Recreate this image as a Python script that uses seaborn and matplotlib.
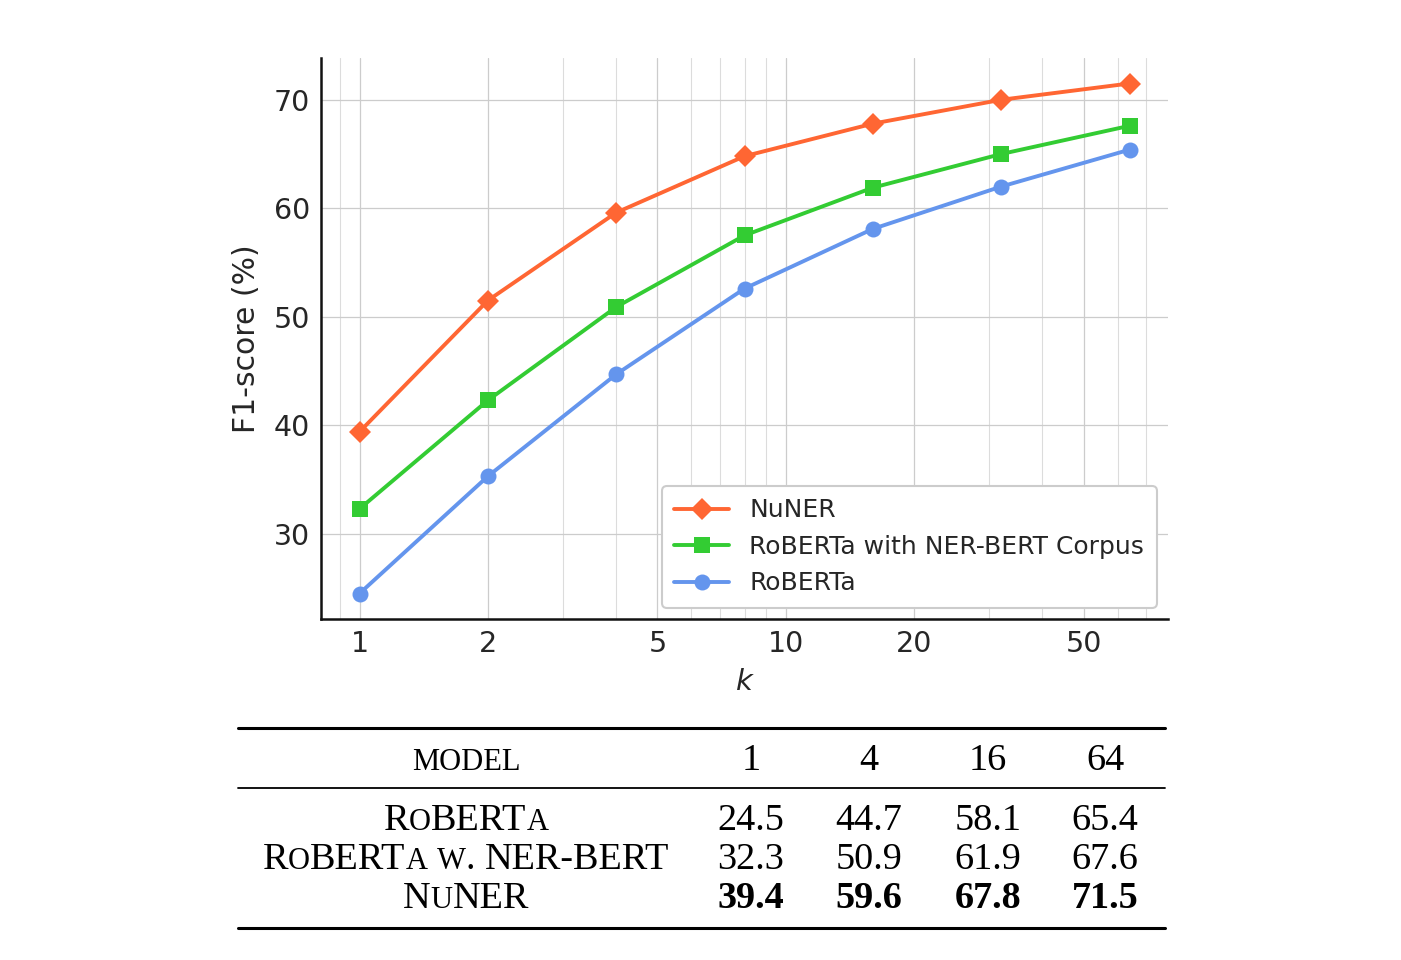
import numpy as np
import pandas as pd
import matplotlib
matplotlib.use("Agg")
import matplotlib.pyplot as plt
from matplotlib.ticker import FixedLocator, FuncFormatter, LogLocator, NullFormatter
from matplotlib.lines import Line2D
import seaborn as sns

# ---------------- data ----------------
k_values = [1, 2, 4, 8, 16, 32, 64]
nuner = [39.4, 51.5, 59.6, 64.8, 67.8, 70.0, 71.5]
roberta_nerbert = [32.3, 42.3, 50.9, 57.5, 61.9, 65.0, 67.6]
roberta = [24.5, 35.3, 44.7, 52.6, 58.1, 62.0, 65.4]

series_names = ["NuNER", "RoBERTa with NER-BERT Corpus", "RoBERTa"]
x_tick_labels = [1, 2, 5, 10, 20, 50]
y_ticks = [30, 40, 50, 60, 70]

table_cols = ["1", "4", "16", "64"]
table_rows = ["RoBERTa", "RoBERTa w. NER-BERT", "NuNER"]
table_vals = [
    ["24.5", "44.7", "58.1", "65.4"],
    ["32.3", "50.9", "61.9", "67.6"],
    ["39.4", "59.6", "67.8", "71.5"],
]

# ---------------- style ----------------
sns.set_theme(style="white")
plt.rcParams["font.family"] = ["DejaVu Sans"]
TXT = "#262626"

W, H = 1401, 960
fig = plt.figure(figsize=(W / 100, H / 100), dpi=100)
ax = fig.add_axes([321 / W, 1 - 619 / H, (1168 - 321) / W, (619 - 58) / H])

colors = ["#FF6633", "#33CC33", "#6495ED"]
markers = ["D", "s", "o"]
msizes = [11.5, 12, 11.5]
for vals, name, c, m, ms in zip([nuner, roberta_nerbert, roberta], series_names, colors, markers, msizes):
    sns.lineplot(x=k_values, y=vals, ax=ax, color=c, marker=m, markersize=ms,
                 markeredgewidth=0, linewidth=2.8, label=name)

ax.set_xscale("log")
ax.xaxis.set_major_locator(FixedLocator(x_tick_labels))
ax.xaxis.set_major_formatter(FuncFormatter(lambda v, p: f"{v:g}"))
ax.xaxis.set_minor_locator(LogLocator(base=10, subs=np.arange(1, 10)))
ax.xaxis.set_minor_formatter(NullFormatter())
ax.set_yticks(y_ticks)

ax.grid(True, which="major", color="#cccccc", linewidth=0.9)
ax.grid(True, which="minor", axis="x", color="#dcdcdc", linewidth=0.8)
ax.set_axisbelow(True)

for s in ["top", "right"]:
    ax.spines[s].set_visible(False)
for s in ["left", "bottom"]:
    ax.spines[s].set_color("#111111")
    ax.spines[s].set_linewidth(1.8)

ax.tick_params(axis="both", which="major", direction="in", length=7, width=1.6,
               colors="#111111", labelsize=20.5, labelcolor=TXT, pad=8)
ax.tick_params(axis="x", which="minor", direction="in", length=4, width=1.2, colors="#111111")
ax.tick_params(axis="y", which="minor", length=0)

ax.set_xlabel("$k$", fontsize=21, color=TXT, labelpad=7)
ax.set_ylabel("F1-score (%)", fontsize=21.5, color=TXT, labelpad=9)

leg = ax.legend(loc="lower right", fontsize=18, frameon=True, fancybox=True,
                edgecolor="#cccccc", framealpha=1.0, borderpad=0.5,
                handlelength=2.2, labelspacing=0.5, borderaxespad=0.45)
leg.get_frame().set_linewidth(1.5)
for t in leg.get_texts():
    t.set_color(TXT)

# ---------------- table ----------------
SERIF = ["Liberation Serif", "DejaVu Serif"]
FS = 27.5
SC = 0.8
renderer = fig.canvas.get_renderer()


def fy(y):
    return 1 - y / H


def fx(x):
    return x / W


def hline(y, x0, x1, lw):
    fig.add_artist(Line2D([fx(x0), fx(x1)], [fy(y), fy(y)], transform=fig.transFigure,
                          color="black", linewidth=lw))


def smallcaps(text, cx, y, size=FS, weight="normal"):
    """Draw text in small caps, centred at pixel cx, baseline pixel y."""
    runs = []
    for ch in text:
        small = ch.islower()
        c = ch.upper()
        if runs and runs[-1][1] == small:
            runs[-1][0] += c
        else:
            runs.append([c, small])
    pieces = []
    for chunk, small in runs:
        parts = chunk.split(" ")
        for i, p in enumerate(parts):
            if i > 0:
                pieces.append((None, small))
            if p:
                pieces.append((p, small))
    objs = []
    total = 0.0
    space = 0.25 * size * 100 / 72
    for p, small in pieces:
        if p is None:
            objs.append((None, space))
            total += space
            continue
        t = fig.text(0, 0, p, fontsize=size * (SC if small else 1.0), family=SERIF,
                     weight=weight, va="baseline", ha="left", color="black")
        w = t.get_window_extent(renderer).width
        objs.append((t, w))
        total += w
    x = cx - total / 2
    for t, w in objs:
        if t is not None:
            t.set_position((fx(x), fy(y)))
        x += w


hline(728, 238, 1165, 2.2)
hline(788, 238, 1165, 1.3)
hline(928, 238, 1165, 2.2)

col_x = [751, 869, 988, 1105]
name_x = 466
header_y = 770
row_y = [830, 869, 908]

smallcaps("model", name_x, header_y)
for cx, lab in zip(col_x, table_cols):
    fig.text(fx(cx), fy(header_y), lab, fontsize=FS, family=SERIF, ha="center",
             va="baseline", color="black")

for ri, (name, vals) in enumerate(zip(table_rows, table_vals)):
    smallcaps(name, name_x, row_y[ri])
    bold = ri == len(table_rows) - 1
    for cx, v in zip(col_x, vals):
        fig.text(fx(cx), fy(row_y[ri]), v, fontsize=FS, family=SERIF, ha="center",
                 va="baseline", color="black", weight="bold" if bold else "normal")

fig.savefig("out.png", dpi=100)
